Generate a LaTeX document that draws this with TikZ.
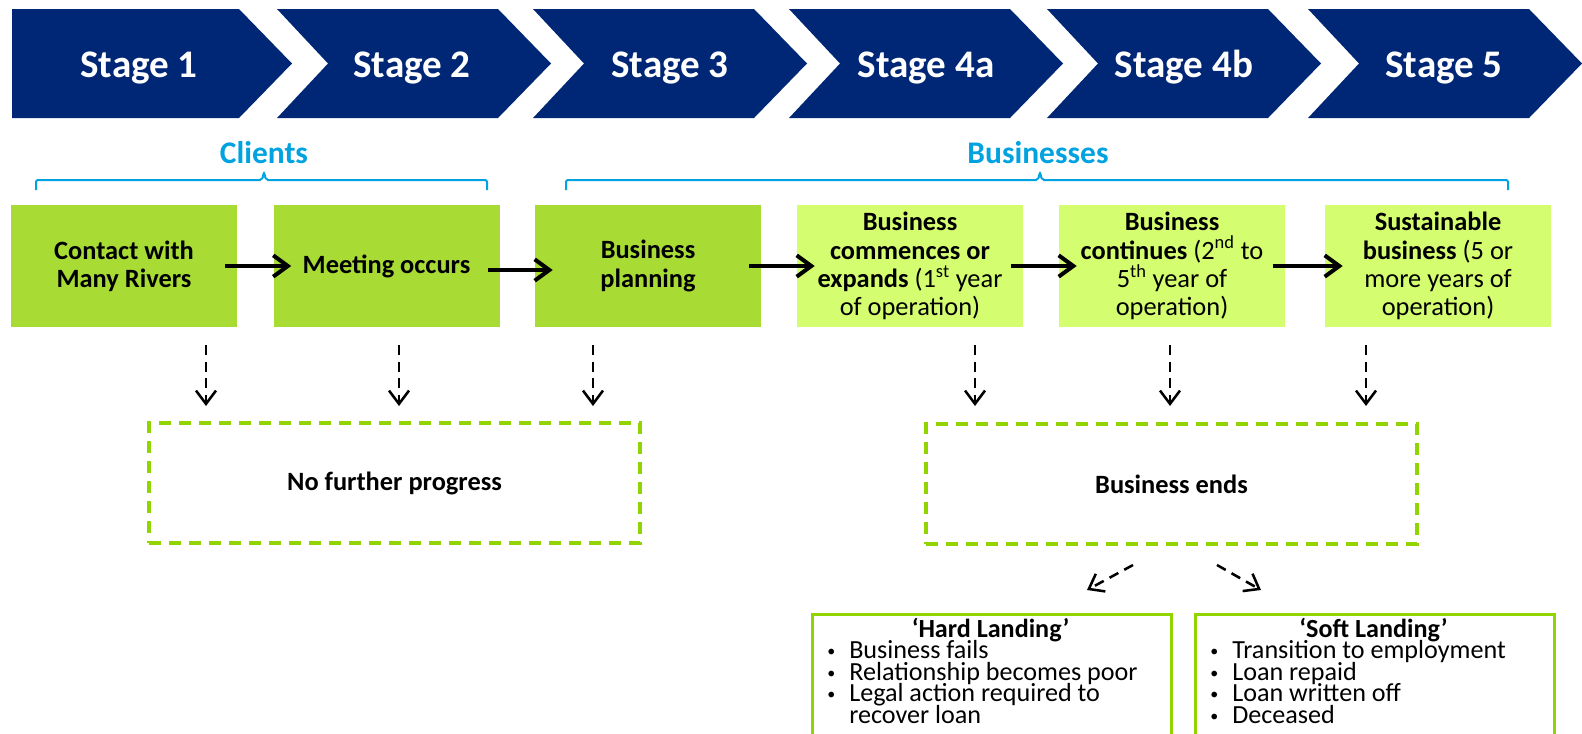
\documentclass[tikz,border=0pt]{standalone}
\usepackage{fontspec}
\setmainfont{Carlito}
\usetikzlibrary{arrows.meta}
\definecolor{navy}{HTML}{002776}
\definecolor{dkgreen}{HTML}{A8DC35}
\definecolor{ltgreen}{HTML}{D4FD6F}
\definecolor{limeline}{HTML}{92D400}
\definecolor{skyblue}{HTML}{00A3E0}
\newcommand\bul{\makebox[18pt][l]{\hspace{1.5pt}\raisebox{1.2pt}{\fontsize{12pt}{12pt}\selectfont •}}}
\tikzset{
 chev/.style={fill=navy, draw=none},
 stagetxt/.style={text=white, font=\fontsize{29.3pt}{35pt}\selectfont\bfseries, anchor=base, inner sep=0pt},
 grouptxt/.style={text=skyblue, font=\fontsize{23.6pt}{28pt}\selectfont\bfseries, anchor=base, inner sep=0pt},
 bracket/.style={draw=skyblue, line width=1.5pt, rounded corners=1.5pt},
 stepA/.style={fill=dkgreen, minimum width=169.5pt, minimum height=91.5pt, inner sep=0pt, align=center, font=\fontsize{19.8pt}{21.2pt}\selectfont},
 stepB/.style={stepA, fill=ltgreen},
 flow/.style={line width=3pt, -{Straight Barb[length=11pt,width=16pt]}},
 drop/.style={line width=1.9pt, dash pattern=on 7.5pt off 5pt, -{Straight Barb[length=10pt,width=15pt]}},
 endbox/.style={draw=limeline, line width=3pt, dash pattern=on 9pt off 6pt, minimum width=368.25pt, minimum height=90pt, font=\fontsize{19.8pt}{21.2pt}\selectfont\bfseries},
 landbox/.style={draw=limeline, line width=2pt, minimum width=269.25pt, minimum height=150pt, anchor=north west, inner sep=0pt},
 landtxt/.style={font=\fontsize{19.6pt}{16.3pt}\selectfont, inner sep=0pt, anchor=base west},
 landtitle/.style={font=\fontsize{19.6pt}{16.3pt}\selectfont\bfseries, inner sep=0pt, anchor=base},
}
\begin{document}
\begin{tikzpicture}[x=0.75pt,y=-0.75pt]
\useasboundingbox (0,0) rectangle (1582,733);
\clip (0,0) rectangle (1582,733);
% chevrons
\fill[chev] (12,9) -- (239,9) -- (292,63.5) -- (239,118) -- (12,118) -- cycle;
\foreach \L in {277,533,789,1047,1308}
  \fill[chev] (\L,9) -- (\L+221,9) -- (\L+274,63.5) -- (\L+221,118) -- (\L,118) -- (\L+51,63.5) -- cycle;
\node[stagetxt] (st1) at (139,77) {Stage 1};
\node[stagetxt] (st2) at (412,77) {Stage 2};
\node[stagetxt] (st3) at (670,77) {Stage 3};
\node[stagetxt] (st4a) at (926,77) {Stage 4a};
\node[stagetxt] (st4b) at (1184,77) {Stage 4b};
\node[stagetxt] (st5) at (1444,77) {Stage 5};
% groups
\node[grouptxt] (clients) at (264,163) {Clients};
\node[grouptxt] (businesses) at (1038,163) {Businesses};
\draw[bracket] (36,190) |- (262,180) -- (264,172) -- (266,180) -| (487,190);
\draw[bracket] (566,190) |- (1038,180) -- (1040,172) -- (1042,180) -| (1508,190);
% step boxes
\node[stepA] (b1) at (124,266) {\textbf{Contact with}\\\textbf{Many Rivers}};
\node[stepA] (b2) at (386.5,266) {\textbf{Meeting occurs}};
\node[stepA] (b3) at (648,266) {\textbf{Business}\\\textbf{planning}};
\node[stepB] (b4a) at (910,266) {\textbf{Business}\\\textbf{commences or}\\\textbf{expands} (1\textsuperscript{st} year\\of operation)};
\node[stepB] (b4b) at (1172,266) {\textbf{Business}\\\textbf{continues} (2\textsuperscript{nd} to\\5\textsuperscript{th} year of\\operation)};
\node[stepB] (b5) at (1438,266) {\textbf{Sustainable}\\\textbf{business} (5 or\\more years of\\operation)};
\draw[flow] ([xshift=-9pt]b1.east) -- ([xshift=13.5pt]b2.west);
\draw[flow] ([xshift=-9pt,yshift=-3pt]b2.east) -- ([xshift=13.5pt,yshift=-3pt]b3.west);
\draw[flow] ([xshift=-9pt]b3.east) -- ([xshift=13.5pt]b4a.west);
\draw[flow] ([xshift=-9pt]b4a.east) -- ([xshift=13.5pt]b4b.west);
\draw[flow] ([xshift=-9pt]b4b.east) -- ([xshift=13.5pt]b5.west);
% end boxes
\node[endbox] (nfp) at (394.5,483) {No further progress};
\node[endbox] (bend) at (1171.5,484) {Business ends};
% drop arrows
\foreach \x [count=\i] in {206,399,593,975,1170,1366} {
  \coordinate (ds\i) at (\x,345);
  \coordinate (de\i) at (\x,406);
  \draw[drop] (ds\i) -- (de\i);
}
% split arrows
\coordinate (hs) at (1133,565);
\coordinate (he) at (1087,590);
\coordinate (ss) at (1217,565);
\coordinate (se) at (1261,590);
\draw[drop] (hs) -- (he);
\draw[drop] (ss) -- (se);
% landing boxes
\node[landbox] (hard) at (811,613) {};
\node[landbox] (soft) at (1194,613) {};
\node[landtitle] (hardT) at (990.5,637) {‘Hard Landing’};
\node[landtxt] (h1) at (825,658.5) {\bul Business fails};
\node[landtxt] (h2) at (825,680) {\bul Relationship becomes poor};
\node[landtxt] (h3) at (825,701.5) {\bul Legal action required to};
\node[landtxt] (h4) at (825,723) {\hphantom{\bul}recover loan};
\node[landtitle] (softT) at (1373.5,637) {‘Soft Landing’};
\node[landtxt] (s1) at (1208,658.5) {\bul Transition to employment};
\node[landtxt] (s2) at (1208,680) {\bul Loan repaid};
\node[landtxt] (s3) at (1208,701.5) {\bul Loan written off};
\node[landtxt] (s4) at (1208,723) {\bul Deceased};
\end{tikzpicture}
\end{document}
